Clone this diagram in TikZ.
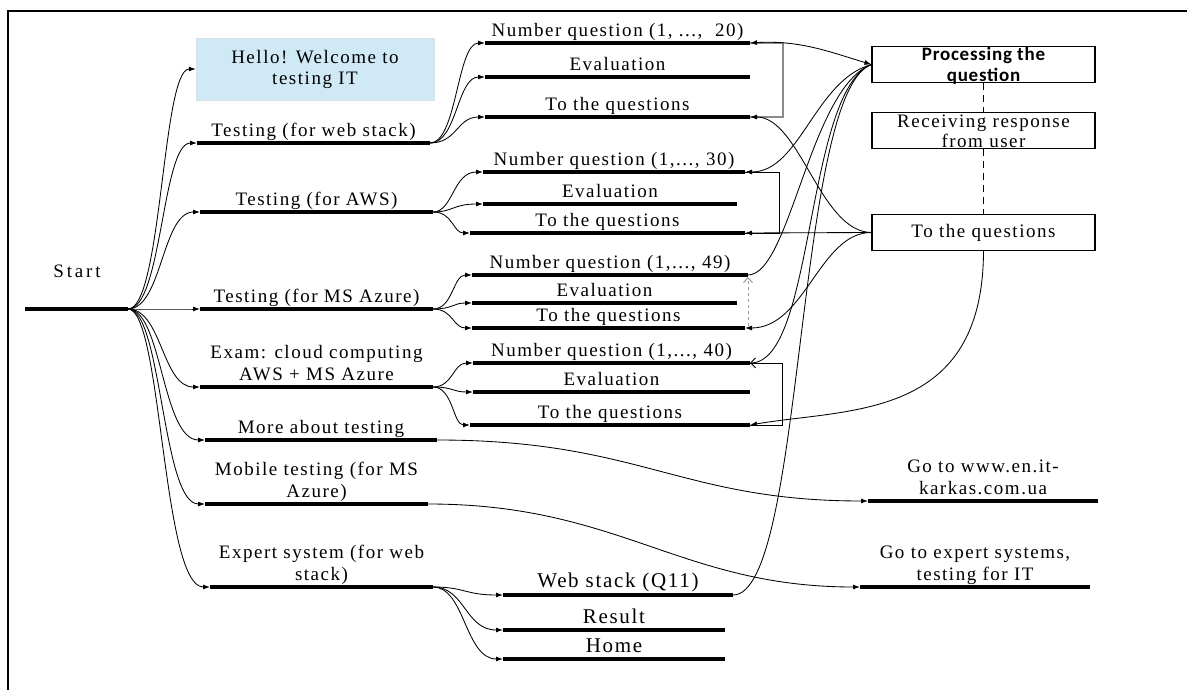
\documentclass[tikz,border=0pt]{standalone}
\usepackage{fontspec}
\setmainfont{Liberation Serif}[LetterSpace=8]
\newfontfamily\procfont{Carlito}[LetterSpace=4]
\newfontfamily\startfont{Liberation Serif}[LetterSpace=15]
\usetikzlibrary{arrows.meta,calc}
\definecolor{hellofill}{RGB}{207,233,247}
\definecolor{hellodraw}{RGB}{215,225,232}
\newcommand\lvbar[6]{%
  \coordinate (#1L) at (#2,#4);
  \coordinate (#1R) at (#3,#4);
  \draw[thickbar] (#1L) -- (#1R);
  \node[lab, font=\fontsize{#5}{22}\selectfont, anchor=south] (#1T) at ($(#1L)!0.5!(#1R)+(0,-2.5)$) {#6\rule[-4pt]{0pt}{4pt}};
}
\begin{document}
\begin{tikzpicture}[x=1pt,y=-1pt,
  thickbar/.style={line width=3.2pt},
  conn/.style={line width=0.85pt},
  tipend/.style={-{Latex[length=7pt,width=5pt]}},
  tipstart/.style={{Latex[length=7pt,width=5pt]}-},
  lab/.style={inner sep=0pt, align=center},
  rbox/.style={draw, line width=1.1pt, minimum width=223pt, minimum height=36pt, inner sep=0pt},
]
\useasboundingbox (0,0) rectangle (1187,690);
\draw[line width=1.5pt] (8,693) -- (8,11) -- (1190,11);

% start
\node[font=\startfont\fontsize{19}{20}\selectfont, inner sep=0pt] (start) at (77,271) {Start};
\coordinate (st0) at (25,309);
\coordinate (st) at (128,309);
\draw[thickbar] (st0) -- (st);

\node[fill=hellofill, draw=hellodraw, minimum width=238pt, minimum height=62pt, align=center, inner sep=0pt, font=\fontsize{19}{21}\selectfont] (hello) at (315,69) {Hello! Welcome to\\testing IT};

% level 1
\lvbar{web}{197}{430}{143}{19}{Testing (for web stack)}
\lvbar{aws}{200}{433}{212}{19}{Testing (for AWS)}
\lvbar{az}{200}{433}{309}{19}{Testing (for MS Azure)}
\lvbar{exam}{200}{433}{387}{19}{Exam: cloud computing\\AWS + MS Azure}
\lvbar{more}{205}{437}{440}{19}{More about testing}
\lvbar{mob}{205}{428}{504}{19}{Mobile testing (for MS\\Azure)}
\lvbar{exp}{210}{433}{587}{19}{Expert system (for web\\stack)}

% group 1
\lvbar{nqa}{485}{750}{43}{19}{Number question (1, ...,\ \ 20)}
\lvbar{eva}{485}{750}{77}{19}{Evaluation}
\lvbar{tqa}{485}{750}{117}{19}{To the questions}
% group 2
\lvbar{nqb}{483}{745}{172}{19}{Number question (1,..., 30)}
\lvbar{evb}{483}{737}{204}{19}{Evaluation}
\lvbar{tqb}{470}{745}{233}{19}{To the questions}
% group 3
\lvbar{nqc}{472}{748}{275}{19}{Number question (1,..., 49)}
\lvbar{evc}{472}{737}{303}{19}{Evaluation}
\lvbar{tqc}{472}{745}{328}{19}{To the questions}
% group 4
\lvbar{nqd}{473}{750}{363}{19}{Number question (1,..., 40)}
\lvbar{evd}{473}{750}{392}{19}{Evaluation}
\lvbar{tqd}{470}{750}{425}{19}{To the questions}
% web stack group
\lvbar{wsq}{503}{733}{595}{21}{Web stack (Q11)}
\lvbar{res}{503}{725}{630}{21}{Result}
\lvbar{home}{503}{725}{659}{21}{Home}
% go-to
\lvbar{gw}{868}{1098}{501}{19}{Go to www.en.it-\\karkas.com.ua}
\lvbar{gex}{860}{1090}{587}{19}{Go to expert systems,\\testing for IT}

% right boxes
\node[rbox] (proc) at (983.5,64.5) {};
\node[font=\procfont\bfseries\fontsize{19}{21}\selectfont, align=center, inner sep=0pt] (proctxt) at (983.5,66) {Processing the\\question};
\node[rbox] (recv) at (983.5,130.5) {};
\node[lab, font=\fontsize{19}{20}\selectfont] (recvtxt) at (983.5,131) {Receiving response\\from user};
\node[rbox] (tqbox) at (983.5,232.5) {};
\node[lab, font=\fontsize{19}{20}\selectfont] (tqtxt) at (983.5,233) {To the questions};
\draw[conn, dash pattern=on 7pt off 5pt] (proc.south) -- (recv.north);
\draw[conn, dash pattern=on 7pt off 5pt] (recv.south) -- (tqbox.north);

% fans
\foreach \t in {hello.west, webL, awsL, azL, examL, moreL, mobL, expL}
  \draw[conn,tipend] (st) .. controls ($(st)+(34,0)$) and ($(\t -| st)+(34,0)$) .. (\t);
\foreach \t in {nqaL,evaL,tqaL}
  \draw[conn,tipend] (webR) .. controls ($(webR)+(27,0)$) and ($(\t -| webR)+(27,0)$) .. (\t);
\foreach \t in {nqbL,evbL,tqbL}
  \draw[conn,tipend] (awsR) .. controls ($(awsR)+(20,0)$) and ($(\t -| awsR)+(20,0)$) .. (\t);
\foreach \t in {nqcL,evcL,tqcL}
  \draw[conn,tipend] (azR) .. controls ($(azR)+(20,0)$) and ($(\t -| azR)+(20,0)$) .. (\t);
\foreach \t in {nqdL,evdL,tqdL}
  \draw[conn,tipend] (examR) .. controls ($(examR)+(20,0)$) and ($(\t -| examR)+(20,0)$) .. (\t);
\foreach \t in {wsqL,resL,homeL}
  \draw[conn,tipend] (expR) .. controls ($(expR)+(32,0)$) and ($(\t -| expR)+(32,0)$) .. (\t);

% brackets
\draw[line width=1.5pt, black!45] (nqaR) -- ++(33,0) |- (tqaR);
\draw[conn] (nqbR) -- ++(34,0) |- (tqbR);
\draw[conn] (nqdR) -- ++(32,0) |- (tqdR);
\draw[line width=1pt, black!40, dashed, -{Straight Barb[length=5pt,width=9pt]}] ($(tqcR)+(3,-2)$) -- ($(nqcR)+(0,2)$);

% to processing
\draw[conn,{Latex[length=7pt,width=5pt]}-{Latex[length=7pt,width=5pt]}] (nqaR) .. controls (800,40) and (830,52) .. (proc.west);
\draw[conn,tipstart] (nqbR) .. controls (800,172) and (815,80) .. (proc.west);
\draw[conn] (nqcR) .. controls (790,275) and (810,88) .. (proc.west);
\draw[conn,{Straight Barb[length=5pt,width=10pt]}-] (nqdR) .. controls (815,362) and (805,92) .. (proc.west);
\draw[conn] (wsqR) .. controls (805,595) and (795,92) .. (proc.west);

% from to-the-questions box
\draw[conn,tipstart] (tqaR) .. controls (800,117) and (820,232) .. (tqbox.west);
\draw[conn,tipstart] (tqbR) -- (tqbox.west);
\draw[conn,tipstart] (tqcR) .. controls (805,328) and (820,232) .. (tqbox.west);
\draw[conn,tipstart] (tqdR) .. controls (850,408) and (983,420) .. (tqbox.south);

% go-to links
\draw[conn,tipend] (moreR) .. controls (640,440) and (680,501) .. (gwL);
\draw[conn,tipend] (mobR) .. controls (620,504) and (680,587) .. (gexL);
\end{tikzpicture}
\end{document}
